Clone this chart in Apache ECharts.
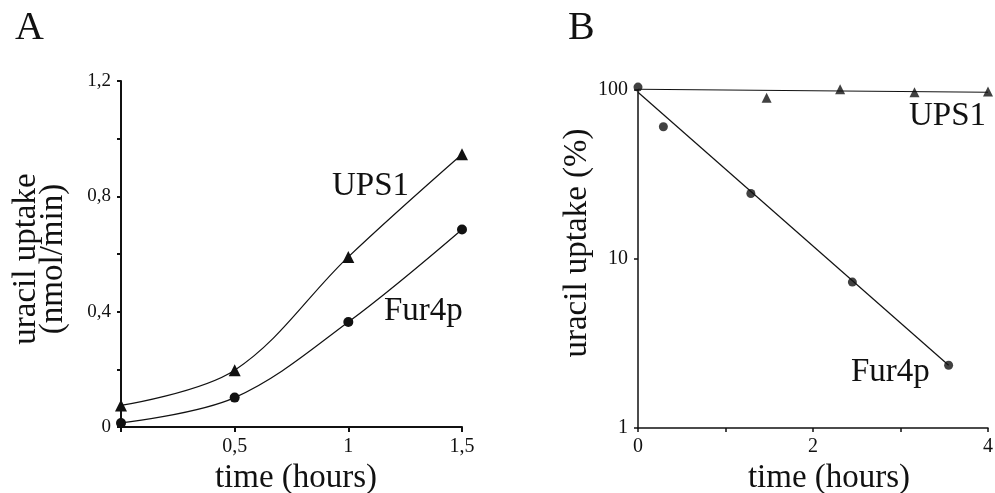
<!DOCTYPE html>
<html><head><meta charset="utf-8">
<script src="https://cdn.jsdelivr.net/npm/echarts@6/dist/echarts.min.js"></script>
<style>html,body{margin:0;padding:0;background:#fff}#c{width:995px;height:493px}</style>
</head><body><div id="c"></div>
<script>
// Panel A data
const timeA = [0, 0.5, 1, 1.5];
const ups1A = [0.075, 0.197, 0.59, 0.946];
const fur4pA = [0.014, 0.102, 0.364, 0.685];
const yTicksA = [0, 0.4, 0.8, 1.2];
// Panel B data
const ups1BTime = [1.47, 2.31, 3.16, 4.0];
const ups1BVal = [90, 101, 97, 98];
const ups1BFitTime = [0, 4];
const ups1BFitVal = [101, 97];
const fur4pBTime = [0, 0.29, 1.29, 2.45, 3.55];
const fur4pBVal = [104, 60.6, 24.4, 7.3, 2.35];
const fur4pBFitTime = [0, 3.55];
const fur4pBFitVal = [97, 2.35];
const xLabelsA = ['0,5', '1', '1,5'];
const xLabelsB = ['0', '2', '4'];

const pairs = (xs, ys) => xs.map((x, i) => [x, ys[i]]);
const F = 'Liberation Serif, Times New Roman, serif';
const C = '#111';
const fmtA = v => { const r = Math.round(v * 10); return (r % 4 === 0) ? String(+v.toFixed(1)).replace('.', ',') : ''; };

const chart = echarts.init(document.getElementById('c'));
chart.setOption({
  animation: false,
  backgroundColor: '#fff',
  grid: [
    {left: 121, top: 81, width: 341, height: 346, outerBoundsMode: 'none', containLabel: false},
    {left: 638, top: 90, width: 350, height: 338, outerBoundsMode: 'none', containLabel: false}
  ],
  xAxis: [
    {gridIndex: 0, type: 'value', min: 0, max: 1.5, interval: 0.5,
     axisLine: {lineStyle: {color: C, width: 2}}, axisTick: {length: 5, lineStyle: {color: C, width: 2}},
     splitLine: {show: false},
     axisLabel: {color: C, fontFamily: F, fontSize: 20, margin: 10,
       formatter: v => { const i = [0.5, 1, 1.5].findIndex(t => Math.abs(t - v) < 1e-6); return i >= 0 ? xLabelsA[i] : ''; }},
     name: 'time (hours)', nameLocation: 'middle', nameGap: 22,
     nameTextStyle: {color: C, fontFamily: F, fontSize: 33, padding: [0, 0, 0, 9]}},
    {gridIndex: 1, type: 'value', min: 0, max: 4, interval: 1,
     axisLine: {lineStyle: {color: C, width: 1.5}}, axisTick: {length: 4, lineStyle: {color: C, width: 1.5}},
     splitLine: {show: false},
     axisLabel: {color: C, fontFamily: F, fontSize: 20, margin: 9,
       formatter: v => { const i = [0, 2, 4].indexOf(Math.round(v)); return (Math.abs(v - Math.round(v)) < 1e-6 && i >= 0) ? xLabelsB[i] : ''; }},
     name: 'time (hours)', nameLocation: 'middle', nameGap: 21,
     nameTextStyle: {color: C, fontFamily: F, fontSize: 33, padding: [0, 0, 0, 32]}}
  ],
  yAxis: [
    {gridIndex: 0, type: 'value', min: 0, max: 1.2, interval: 0.2,
     axisLine: {show: true, lineStyle: {color: C, width: 2}}, axisTick: {show: true, length: 4, lineStyle: {color: C, width: 2}},
     splitLine: {show: false},
     axisLabel: {color: C, fontFamily: F, fontSize: 19, margin: 10, formatter: fmtA},
     name: 'uracil uptake\n(nmol/min)', nameLocation: 'middle', nameGap: 54,
     nameTextStyle: {color: C, fontFamily: F, fontSize: 33, lineHeight: 27, padding: [0, 10, 0, 0]}},
    {gridIndex: 1, type: 'log', logBase: 10, min: 1, max: 100,
     axisLine: {show: true, lineStyle: {color: C, width: 1.5}}, axisTick: {show: true, length: 4, lineStyle: {color: C, width: 1.5}},
     splitLine: {show: false}, minorTick: {show: false},
     axisLabel: {color: C, fontFamily: F, fontSize: 20, margin: 10},
     name: 'uracil uptake (%)', nameLocation: 'middle', nameGap: 41,
     nameTextStyle: {color: C, fontFamily: F, fontSize: 33, padding: [0, 0, 0, 32]}}
  ],
  series: [
    {name: 'UPS1', type: 'line', xAxisIndex: 0, yAxisIndex: 0, data: pairs(timeA, ups1A), smooth: 0.35,
     symbol: 'triangle', symbolSize: 12, itemStyle: {color: C}, lineStyle: {color: C, width: 1.2}, clip: false},
    {name: 'Fur4p', type: 'line', xAxisIndex: 0, yAxisIndex: 0, data: pairs(timeA, fur4pA), smooth: 0.35,
     symbol: 'circle', symbolSize: 10, itemStyle: {color: C}, lineStyle: {color: C, width: 1.2}, clip: false},
    {name: 'UPS1 fit', type: 'line', xAxisIndex: 1, yAxisIndex: 1, data: pairs(ups1BFitTime, ups1BFitVal),
     showSymbol: false, symbol: 'none', lineStyle: {color: C, width: 1.2}, clip: false},
    {name: 'Fur4p fit', type: 'line', xAxisIndex: 1, yAxisIndex: 1, data: pairs(fur4pBFitTime, fur4pBFitVal),
     showSymbol: false, symbol: 'none', lineStyle: {color: C, width: 1.2}, clip: false},
    {name: 'UPS1 B', type: 'scatter', xAxisIndex: 1, yAxisIndex: 1, data: pairs(ups1BTime, ups1BVal),
     symbol: 'triangle', symbolSize: 10, itemStyle: {color: C}, clip: false},
    {name: 'Fur4p B', type: 'scatter', xAxisIndex: 1, yAxisIndex: 1, data: pairs(fur4pBTime, fur4pBVal),
     symbol: 'circle', symbolSize: 9, itemStyle: {color: C}, clip: false}
  ],
  graphic: [
    {type: 'text', left: 15, top: 8, style: {text: 'A', font: '40px ' + F, fill: C}},
    {type: 'text', left: 568, top: 8, style: {text: 'B', font: '40px ' + F, fill: C}},
    {type: 'text', x: 332, y: 186, style: {text: 'UPS1', font: '33px ' + F, fill: C, verticalAlign: 'middle'}},
    {type: 'text', x: 384, y: 311, style: {text: 'Fur4p', font: '33px ' + F, fill: C, verticalAlign: 'middle'}},
    {type: 'text', x: 909, y: 116, style: {text: 'UPS1', font: '33px ' + F, fill: C, verticalAlign: 'middle'}},
    {type: 'text', x: 851, y: 372, style: {text: 'Fur4p', font: '33px ' + F, fill: C, verticalAlign: 'middle'}}
  ]
});
</script></body></html>
